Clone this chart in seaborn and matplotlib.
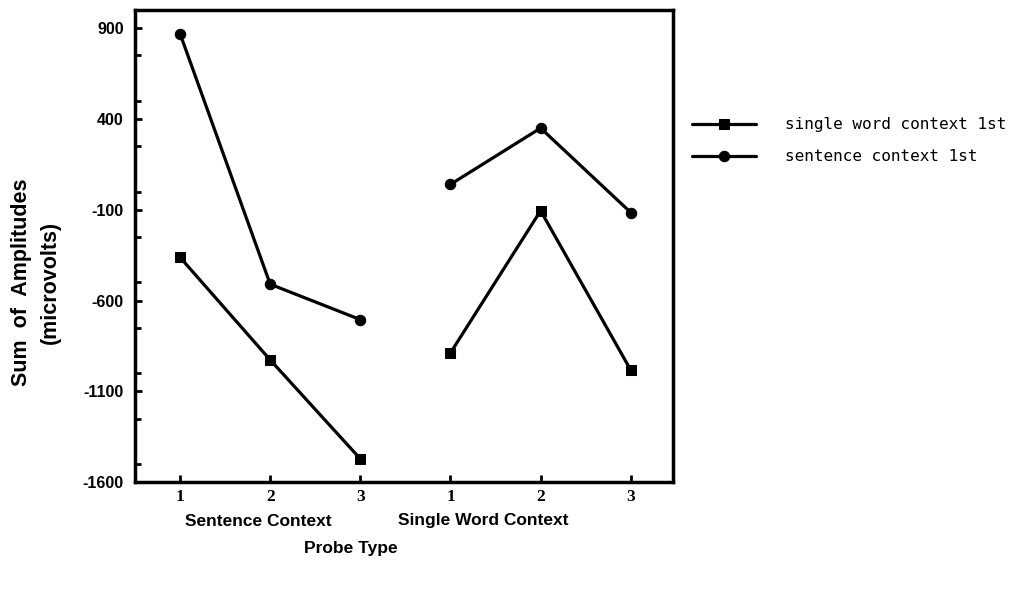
import matplotlib
matplotlib.use("Agg")
import matplotlib.pyplot as plt
from matplotlib.ticker import MultipleLocator
import seaborn as sns
import pandas as pd

# Probe positions: three probe types within each context block
positions = [1, 2, 3, 4, 5, 6]
probe_labels = ["1", "2", "3", "1", "2", "3"]
blocks = ["Sentence Context", "Single Word Context"]

series_names = ["single word context 1st", "sentence context 1st"]
single_word_first = [-362, -927, -1472, -888, -105, -983]
sentence_first = [870, -510, -705, 40, 350, -115]

rows = []
for name, vals in zip(series_names, [single_word_first, sentence_first]):
    for pos, v in zip(positions, vals):
        block = 0 if pos <= 3 else 1
        rows.append({"pos": pos, "amp": v, "series": name,
                     "segment": f"{name}-{block}"})
df = pd.DataFrame(rows)

sns.set_style("ticks")
plt.rcParams["font.family"] = ["Liberation Sans", "DejaVu Sans"]
plt.rcParams["axes.unicode_minus"] = False
plt.rcParams["text.color"] = "black"
plt.rcParams["xtick.color"] = "black"
plt.rcParams["ytick.color"] = "black"
plt.rcParams["xtick.labelcolor"] = "black"
plt.rcParams["ytick.labelcolor"] = "black"

fig = plt.figure(figsize=(10.25, 5.93), dpi=100)
ax = fig.add_axes([0.1317, 0.187, 0.525, 0.796])

sns.lineplot(data=df, x="pos", y="amp", style="series", units="segment",
             estimator=None, markers={series_names[0]: "s", series_names[1]: "o"},
             dashes=False, color="black", linewidth=2.3, markersize=7.5,
             markeredgecolor="black", style_order=series_names, ax=ax)

ax.set_xlim(0.5, 6.47)
ax.set_ylim(-1600, 1000)
ax.set_yticks([900, 400, -100, -600, -1100, -1600])
ax.yaxis.set_minor_locator(MultipleLocator(250))
ax.set_xticks(positions)
ax.set_xticklabels(probe_labels, fontfamily="Liberation Serif",
                   fontweight="bold", fontsize=12.5)
for lab in ax.get_yticklabels():
    lab.set_fontweight("bold")
    lab.set_fontsize(11.5)
ax.tick_params(axis="both", which="major", direction="in", length=5,
               width=2, pad=8)
ax.tick_params(axis="y", which="minor", direction="in", length=4, width=2)
ax.tick_params(axis="x", pad=5)
for sp in ax.spines.values():
    sp.set_visible(True)
    sp.set_linewidth(2.5)
    sp.set_color("black")
ax.set_xlabel("")
ax.set_ylabel("")

# Block labels and axis title under the probe numbers
fig.text(258 / 1025, 1 - 521 / 593, blocks[0], ha="center", va="center",
         fontsize=12.5, fontweight="bold")
fig.text(483 / 1025, 1 - 521 / 593, blocks[1], ha="center", va="center",
         fontsize=12.5, fontweight="bold")
fig.text(351 / 1025, 1 - 549 / 593, "Probe Type", ha="center", va="center",
         fontsize=12.5, fontweight="bold")
fig.text(36 / 1025, 1 - 282 / 593, "Sum  of  Amplitudes\n(microvolts)",
         rotation=90, ha="center", va="center", fontsize=15.5,
         fontweight="bold", linespacing=1.45)

handles, labels = ax.get_legend_handles_labels()
leg = ax.legend(handles, labels, loc="upper left",
                bbox_to_anchor=(678 / 1025, 1 - 103 / 593),
                bbox_transform=fig.transFigure, frameon=False,
                handlelength=4.0, handletextpad=1.8, labelspacing=1.05,
                prop={"family": "DejaVu Sans Mono", "size": 11.5})
for t in leg.get_texts():
    t.set_color("black")

fig.savefig("out.png", dpi=100)
